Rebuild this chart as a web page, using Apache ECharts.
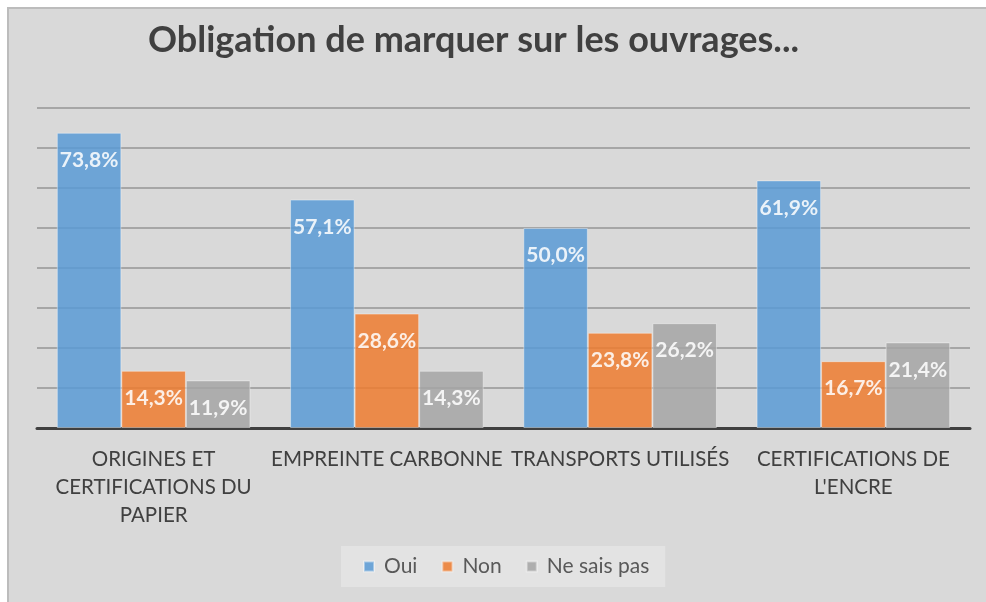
<!DOCTYPE html>
<html>
<head>
<meta charset="utf-8">
<script src="https://cdn.jsdelivr.net/npm/echarts@6/dist/echarts.min.js"></script>
<style>
  html, body { margin: 0; padding: 0; background: #fff; }
  #chart { width: 986px; height: 602px; }
</style>
</head>
<body>
<div id="chart"></div>
<script>
// données
const categories = [
  'ORIGINES ET\nCERTIFICATIONS DU\nPAPIER',
  'EMPREINTE CARBONNE',
  'TRANSPORTS UTILISÉS',
  'CERTIFICATIONS DE\nL\'ENCRE'
]
const oui = [73.8, 57.1, 50.0, 61.9]
const non = [14.3, 28.6, 23.8, 16.7]
const neSaisPas = [11.9, 14.3, 26.2, 21.4]
const seriesNames = ['Oui', 'Non', 'Ne sais pas']

const colors = ['#5b9bd5', '#ed7d31', '#a5a5a5']
const font = 'Lato, "Open Sans", sans-serif'

const myChart = echarts.init(document.getElementById('chart'))

const makeSeries = (name, data, color) => ({
  name,
  type: 'bar',
  data,
  barGap: '0%',
  barCategoryGap: '17%',
  itemStyle: {
    color,
    opacity: 0.86,
    borderColor: 'rgba(255,255,255,0.45)',
    borderWidth: 1
  },
  label: {
    show: true,
    position: 'insideTop',
    distance: 17,
    color: '#fff',
    fontFamily: font,
    fontWeight: 'bold',
    fontSize: 21,
    formatter: p => p.value.toFixed(1).replace('.', ',') + '%'
  }
})

myChart.setOption({
  backgroundColor: '#fff',
  animation: false,
  color: colors,
  graphic: [
    {
      type: 'rect',
      z: -10,
      shape: { x: 8, y: 8, width: 1010, height: 610 },
      style: { fill: '#d9d9d9', stroke: '#bcbcbc', lineWidth: 2 }
    }
  ],
  title: {
    text: 'Obligation de marquer sur les ouvrages...',
    left: 143,
    top: 17,
    textStyle: {
      fontFamily: font,
      fontWeight: 'bold',
      fontSize: 36,
      color: '#404040'
    }
  },
  legend: {
    data: seriesNames,
    left: 341,
    top: 546,
    backgroundColor: '#e3e3e3',
    padding: [10, 16, 10, 22],
    itemWidth: 10,
    itemHeight: 10,
    itemGap: 24,
    icon: 'rect',
    textStyle: {
      fontFamily: font,
      fontSize: 21,
      color: '#595959',
      padding: [0, 0, 0, 5]
    }
  },
  grid: { left: 37, right: 16, top: 108, bottom: 174, containLabel: false },
  xAxis: {
    type: 'category',
    data: categories,
    axisLine: { lineStyle: { color: '#404040', width: 3 } },
    axisTick: { show: false },
    axisLabel: {
      interval: 0,
      margin: 17,
      lineHeight: 28,
      fontFamily: font,
      fontSize: 20.5,
      color: '#404040'
    }
  },
  yAxis: {
    type: 'value',
    min: 0,
    max: 80,
    interval: 10,
    axisLine: { show: false },
    axisTick: { show: false },
    axisLabel: { show: false },
    splitLine: { lineStyle: { color: '#a6a6a6', width: 2 } }
  },
  series: [
    makeSeries(seriesNames[0], oui, colors[0]),
    makeSeries(seriesNames[1], non, colors[1]),
    makeSeries(seriesNames[2], neSaisPas, colors[2])
  ]
})
</script>
</body>
</html>
